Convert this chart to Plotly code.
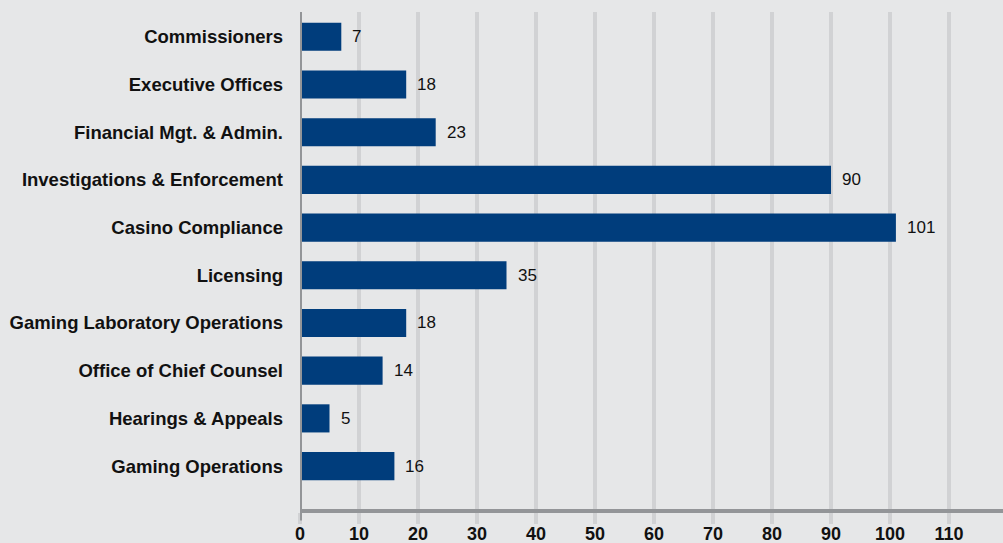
import plotly.graph_objects as go

categories = ["Commissioners", "Executive Offices", "Financial Mgt. & Admin.",
              "Investigations & Enforcement", "Casino Compliance", "Licensing",
              "Gaming Laboratory Operations", "Office of Chief Counsel",
              "Hearings & Appeals", "Gaming Operations"]
values = [7, 18, 23, 90, 101, 35, 18, 14, 5, 16]
tick_vals = [0, 10, 20, 30, 40, 50, 60, 70, 80, 90, 100, 110]

BG = "#e6e7e8"
GRID = "#d1d2d4"
AXIS = "#939598"
BAR = "#003d7c"
FONT = "Liberation Sans, Arial, sans-serif"

fig = go.Figure()
fig.add_trace(go.Bar(
    y=categories, x=values, orientation="h",
    marker=dict(color=BAR, line=dict(width=0)),
    hoverinfo="x+y",
))

for c, v in zip(categories, values):
    fig.add_annotation(x=v, y=c, text=str(v), showarrow=False,
                       xanchor="left", xshift=9,
                       font=dict(family=FONT, size=17, color="#111111"))

fig.add_shape(type="line", xref="x", yref="paper", x0=0, x1=0, y0=-0.023, y1=1,
              line=dict(color=AXIS, width=4), layer="above")

fig.update_layout(
    width=1003, height=543,
    margin=dict(l=300, r=0, t=12, b=34),
    paper_bgcolor=BG, plot_bgcolor=BG,
    bargap=0.41,
    showlegend=False,
    font=dict(family=FONT, size=17, color="#111111"),
    xaxis=dict(
        range=[0, 119.15], tickvals=tick_vals,
        showgrid=True, gridcolor=GRID, gridwidth=4,
        zeroline=False,
        showline=True, linecolor=AXIS, linewidth=4,
        ticks="outside", ticklen=11, tickwidth=4, tickcolor=GRID,
        ticklabelstandoff=-6,
        tickfont=dict(family=FONT, size=18, color="#111111", weight="bold"),
        automargin=False,
        fixedrange=True,
    ),
    yaxis=dict(
        categoryorder="array", categoryarray=categories,
        range=[9.9, -0.52],
        showgrid=False, zeroline=False, showline=False,
        ticks="", ticklabelstandoff=16,
        tickfont=dict(family=FONT, size=18.5, color="#111111", weight="bold"),
        automargin=False,
        fixedrange=True,
    ),
)

fig.write_html("out.html", config={"displayModeBar": False},
               post_script="document.body.style.margin='0';document.body.style.overflow='hidden';")
